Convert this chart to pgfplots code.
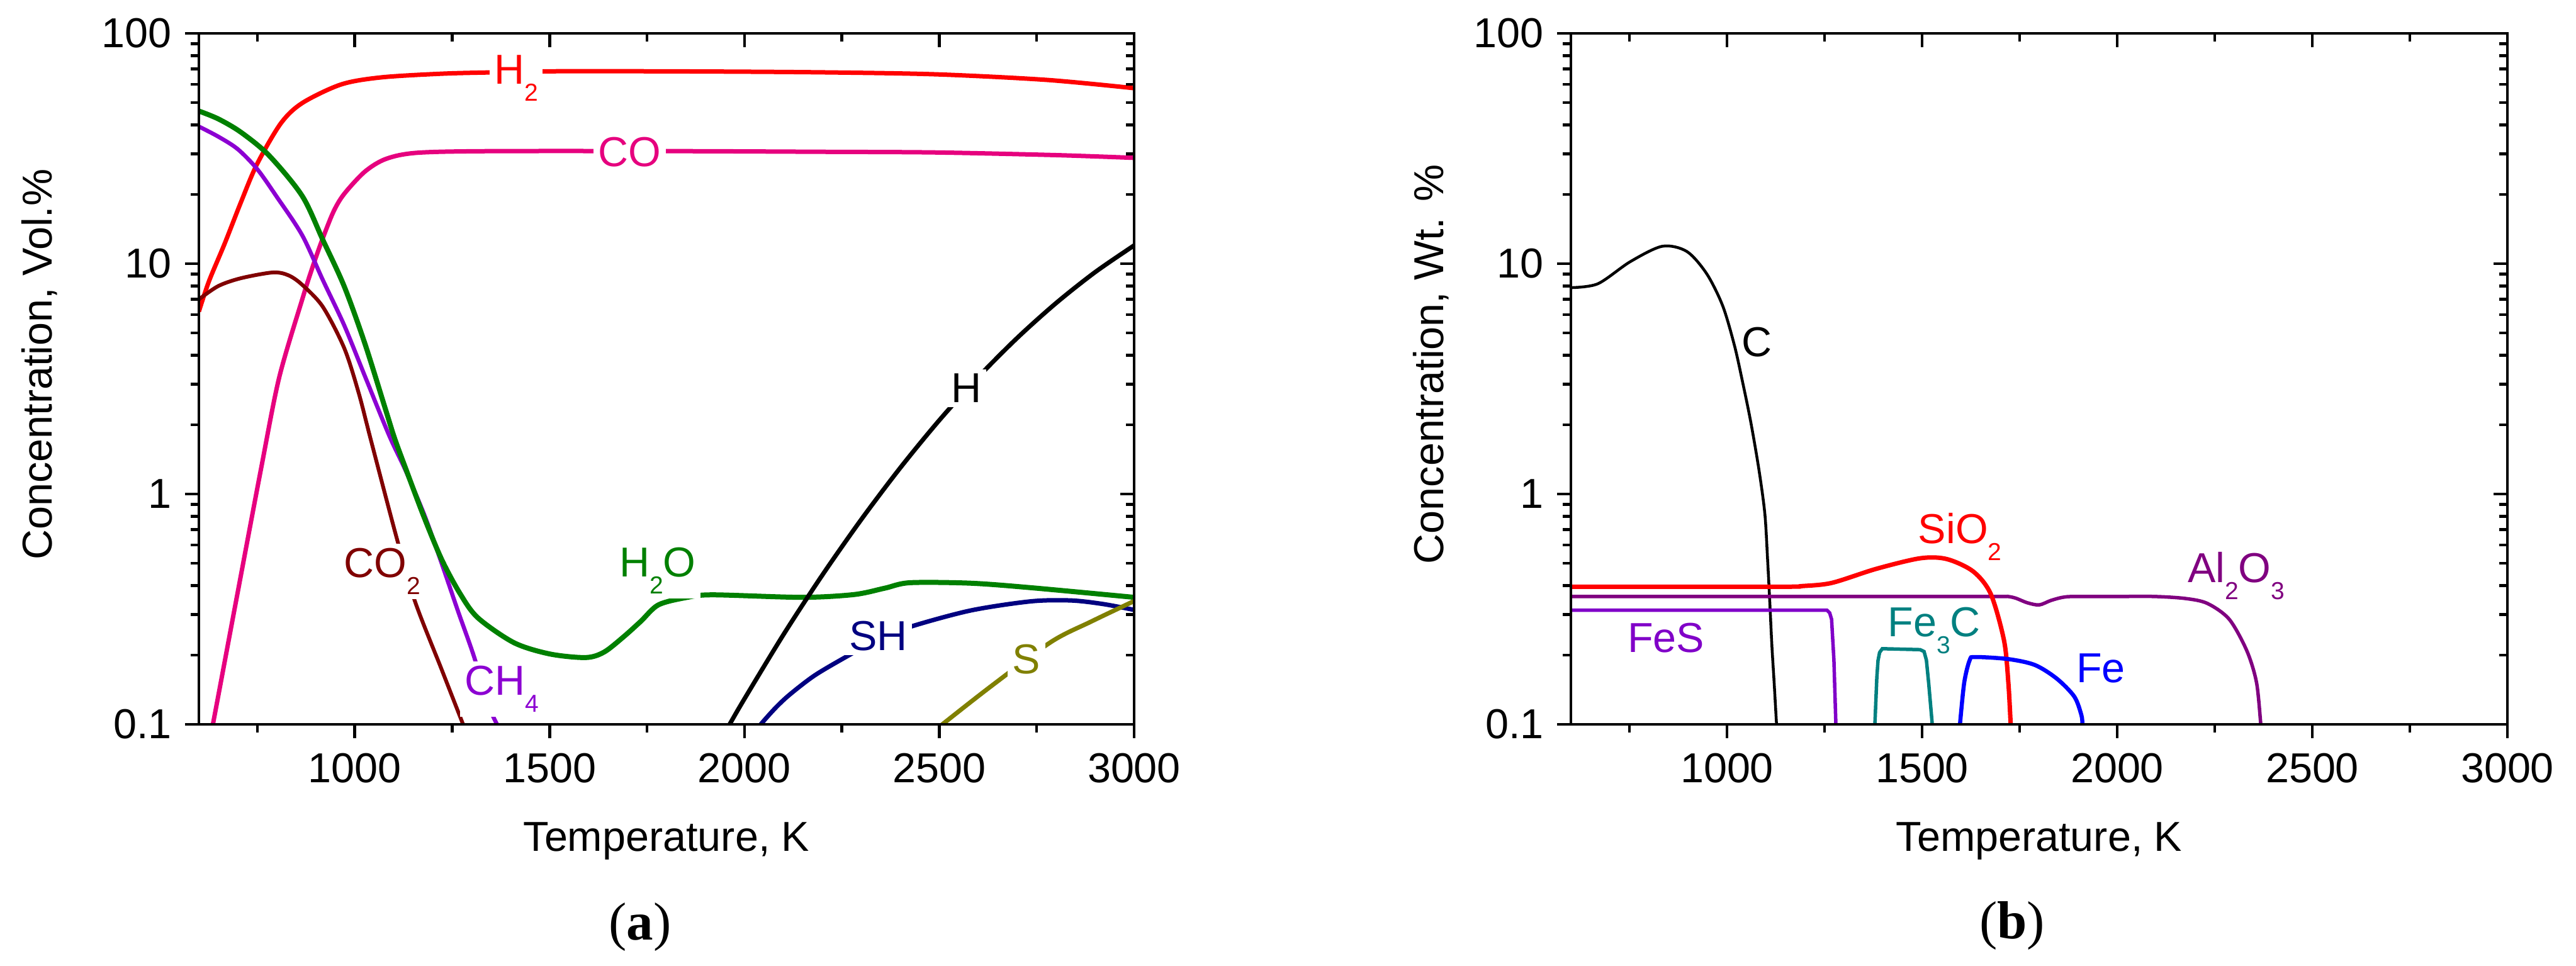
\documentclass[border=0pt]{standalone}
\usepackage{fontspec}
\setmainfont{Liberation Sans}
\newfontfamily\serifb{Liberation Serif}
\usepackage{pgfplots}
\pgfplotsset{compat=1.18}
\newcommand\sub[1]{\raisebox{-5.4pt}{\fontsize{7.8pt}{8pt}\selectfont #1}}
\definecolor{cH2}{RGB}{255,0,0}
\definecolor{cCO}{RGB}{230,0,126}
\definecolor{cH2O}{RGB}{0,128,0}
\definecolor{cCH4}{RGB}{140,0,210}
\definecolor{cCO2}{RGB}{128,0,0}
\definecolor{cSH}{RGB}{0,0,128}
\definecolor{cS}{RGB}{128,128,0}
\definecolor{cAl}{RGB}{128,0,128}
\definecolor{cFeS}{RGB}{128,0,200}
\definecolor{cFeC}{RGB}{0,128,128}
\definecolor{cFe}{RGB}{0,0,255}
\tikzset{curvelab/.style={anchor=base, font=\fontsize{13.3pt}{15pt}\selectfont, inner sep=1.5pt}}
\begin{document}
\begin{tikzpicture}
\path[use as bounding box] (0,0) rectangle (818.6pt,307pt);
% ---------------- panel (a)
\begin{axis}[scale only axis, width=297.2pt, height=219.6pt,
  xmin=600, xmax=3000, ymode=log, ymin=0.1, ymax=100,
  xtick={1000,1500,2000,2500,3000},
  minor xtick={750,1250,1750,2250,2750},
  ytick={0.1,1,10,100},
  axis line style={line width=0.9pt},
  every tick/.style={black, line width=0.9pt},
  major tick length=4.4pt, minor tick length=2.6pt,
  tick align=outside, xtick pos=bottom, ytick pos=left,
  xticklabels={1000,1500,2000,2500,3000}, yticklabels={0.1,1,10,100},
  tick label style={font=\fontsize{13.3pt}{15pt}\selectfont},
  xticklabel style={yshift=-1.3pt},
  yticklabel style={xshift=-0.7pt},
  label style={font=\fontsize{13.3pt}{15pt}\selectfont},
  xlabel={Temperature, K},
  xlabel style={at={(axis description cs:0.5,0)}, anchor=base, yshift=-40.4pt},
  at={(63.2pt,76.8pt)}, anchor=south west,
  ylabel={Concentration, Vol.\%},
  ylabel style={at={(axis description cs:-0.1568,0.521)}, anchor=base}]
\addplot[cH2, line width=1.4pt, no marks, smooth] coordinates {(600,6.2) (626,8.4) (666,12.2) (708,18.5) (749,27) (810,40.6) (865,49.8) (965,60) (1068,64.4) (1223,66.8) (1356,67.7) (1543,68.5) (1900,68.3) (2207,67.7) (2491,66.4) (2775,62.8) (3000,57.8)};
\addplot[cCO, line width=1.4pt, no marks, smooth] coordinates {(630,0.09) (636,0.1) (695,0.34) (760,1.3) (806,3.2) (865,6.98) (892,9.7) (918,12.9) (946,16.9) (973,20.1) (1026,25.1) (1080,28.5) (1160,30.3) (1349,30.8) (1827,30.8) (2200,30.6) (2491,30.4) (2800,29.6) (3000,28.8)};
\addplot[cCO2, line width=1.2pt, no marks, smooth] coordinates {(600,7.0) (650,8.0) (708,8.65) (790,9.16) (830,8.9) (865,8.1) (918,6.5) (973,4.3) (1010,2.75) (1042,1.7) (1107,0.65) (1154,0.344) (1223,0.173) (1280,0.098)};
\addplot[cCH4, line width=1.3pt, no marks, smooth] coordinates {(600,39.4) (650,35.6) (700,31.4) (750,25.7) (800,19.5) (865,13.3) (918,8.5) (973,5.4) (1026,3.25) (1088,1.8) (1130,1.27) (1180,0.8) (1223,0.5) (1265,0.31) (1306,0.197) (1343,0.121) (1372,0.095)};
\addplot[cH2O, line width=1.6pt, no marks, smooth] coordinates {(600,46) (650,42.5) (708,37.2) (780,29.5) (865,19.7) (918,12.7) (973,7.97) (1026,4.5) (1080,2.3) (1102,1.75) (1130,1.3) (1177,0.8) (1223,0.52) (1270,0.37) (1316,0.29) (1409,0.226) (1501,0.202) (1593,0.195) (1640,0.206) (1690,0.24) (1734,0.28) (1779,0.33) (1850,0.355) (1918,0.365) (2147,0.356) (2281,0.366) (2360,0.39) (2425,0.412) (2580,0.41) (2735,0.392) (3000,0.356)};
\addplot[black, line width=1.4pt, no marks, smooth] coordinates {(1955,0.095) (1962,0.1) (2000,0.129) (2100,0.245) (2200,0.445) (2300,0.776) (2400,1.30) (2500,2.09) (2600,3.22) (2700,4.76) (2800,6.75) (2900,9.19) (3000,12.0)};
\addplot[cSH, line width=1.4pt, no marks, smooth] coordinates {(2035,0.095) (2042,0.1) (2080,0.118) (2117,0.135) (2180,0.163) (2260,0.196) (2340,0.232) (2425,0.265) (2580,0.312) (2735,0.342) (2838,0.345) (2920,0.333) (3000,0.314)};
\addplot[cS, line width=1.4pt, no marks, smooth] coordinates {(2500,0.097) (2508,0.1) (2632,0.146) (2787,0.228) (2889,0.279) (3000,0.343)};
\node[curvelab, text=cH2, fill=white] at (axis cs:1414,60.4) {H\sub{2}};
\node[curvelab, text=cCO, fill=white] at (axis cs:1705,26.4) {CO};
\node[curvelab, text=cH2O, fill=white] at (axis cs:1777,0.438) {H\sub{2}O};
\node[curvelab, text=cCO2, fill=white] at (axis cs:1070,0.434) {CO\sub{2}};
\node[curvelab, text=cCH4, fill=white] at (axis cs:1378,0.134) {CH\sub{4}};
\node[curvelab, text=black, fill=white] at (axis cs:2569,2.49) {H};
\node[curvelab, text=cSH, fill=white] at (axis cs:2343,0.21) {SH};
\node[curvelab, text=cS, fill=white] at (axis cs:2724,0.166) {S};
\end{axis}
\begin{axis}[scale only axis, width=297.2pt, height=219.6pt,
  xmin=600, xmax=3000, ymode=log, ymin=0.1, ymax=100,
  xtick={1000,1500,2000,2500,3000},
  minor xtick={750,1250,1750,2250,2750},
  ytick={0.1,1,10,100},
  axis line style={line width=0.9pt},
  every tick/.style={black, line width=0.9pt},
  major tick length=4.4pt, minor tick length=2.6pt,
  tick align=inside, xtick pos=top, ytick pos=right, xticklabels={}, yticklabels={},
  at={(63.2pt,76.8pt)}, anchor=south west]
\end{axis}
% ---------------- panel (b)
\begin{axis}[scale only axis, width=297.6pt, height=219.6pt,
  xmin=600, xmax=3000, ymode=log, ymin=0.1, ymax=100,
  xtick={1000,1500,2000,2500,3000},
  minor xtick={750,1250,1750,2250,2750},
  ytick={0.1,1,10,100},
  axis line style={line width=0.9pt},
  every tick/.style={black, line width=0.9pt},
  major tick length=4.4pt, minor tick length=2.6pt,
  tick align=outside, xtick pos=bottom, ytick pos=left,
  xticklabels={1000,1500,2000,2500,3000}, yticklabels={0.1,1,10,100},
  tick label style={font=\fontsize{13.3pt}{15pt}\selectfont},
  xticklabel style={yshift=-1.3pt},
  yticklabel style={xshift=-0.7pt},
  label style={font=\fontsize{13.3pt}{15pt}\selectfont},
  xlabel={Temperature, K},
  xlabel style={at={(axis description cs:0.5,0)}, anchor=base, yshift=-40.4pt},
  at={(499.2pt,76.8pt)}, anchor=south west,
  ylabel={Concentration, Wt. \%},
  ylabel style={at={(axis description cs:-0.1358,0.521)}, anchor=base}]
\addplot[black, line width=0.9pt, no marks, smooth] coordinates {(600,7.87) (669,8.18) (752,10.2) (834,11.9) (897,11.3) (948,9.04) (989,6.56) (1019,4.42) (1040,3.06) (1061,2.05) (1082,1.27) (1097,0.82) (1104,0.52) (1110,0.33) (1115,0.22) (1121,0.15) (1127,0.1) (1129,0.095)};
\addplot[cAl, line width=1.1pt, no marks, smooth] coordinates {(600,0.359) (900,0.359) (1200,0.359) (1500,0.359) (1700,0.359) (1720,0.359) (1740,0.353) (1770,0.337) (1800,0.33) (1830,0.345) (1860,0.356) (1890,0.359) (2000,0.359) (2095,0.359) (2174,0.352) (2231,0.335) (2287,0.286) (2332,0.209) (2357,0.152) (2368,0.1) (2370,0.095)};
\addplot[cH2, line width=1.4pt, no marks, smooth] coordinates {(600,0.396) (900,0.396) (1165,0.396) (1189,0.398) (1268,0.411) (1382,0.473) (1495,0.526) (1563,0.522) (1631,0.461) (1676,0.368) (1710,0.231) (1721,0.152) (1727,0.1) (1728,0.095)};
\addplot[cFeS, line width=1.1pt, no marks, sharp plot] coordinates {(600,0.313) (1256,0.313) (1263,0.305) (1268,0.286) (1274,0.19) (1279,0.1) (1280,0.095)};
\addplot[cFeC, line width=1.1pt, no marks, sharp plot] coordinates {(1378,0.095) (1379,0.1) (1384,0.16) (1387,0.189) (1391,0.205) (1398,0.213) (1495,0.211) (1505,0.207) (1511,0.19) (1517,0.15) (1526,0.1) (1527,0.095)};
\addplot[cFe, line width=1.3pt, no marks, smooth] coordinates {(1596,0.095) (1597,0.1) (1608,0.152) (1622,0.19) (1636,0.196) (1721,0.192) (1789,0.181) (1845,0.158) (1890,0.132) (1908,0.11) (1911,0.1) (1912,0.095)};
\node[curvelab, text=black] at (axis cs:1077,3.95) {C};
\node[curvelab, text=cH2] at (axis cs:1597,0.612) {SiO\sub{2}};
\node[curvelab, text=cAl] at (axis cs:2305,0.412) {Al\sub{2}O\sub{3}};
\node[curvelab, text=cFeS] at (axis cs:844,0.206) {FeS};
\node[curvelab, text=cFeC] at (axis cs:1531,0.241) {Fe\sub{3}C};
\node[curvelab, text=cFe] at (axis cs:1958,0.152) {Fe};
\end{axis}
\begin{axis}[scale only axis, width=297.6pt, height=219.6pt,
  xmin=600, xmax=3000, ymode=log, ymin=0.1, ymax=100,
  xtick={1000,1500,2000,2500,3000},
  minor xtick={750,1250,1750,2250,2750},
  ytick={0.1,1,10,100},
  axis line style={line width=0.9pt},
  every tick/.style={black, line width=0.9pt},
  major tick length=4.4pt, minor tick length=2.6pt,
  tick align=inside, xtick pos=top, ytick pos=right, xticklabels={}, yticklabels={},
  at={(499.2pt,76.8pt)}, anchor=south west]
\end{axis}
\node[font=\serifb\fontsize{17pt}{20pt}\selectfont] at (203.4pt,12.4pt) {(\textbf{a})};
\node[font=\serifb\fontsize{17pt}{20pt}\selectfont] at (639.4pt,12.8pt) {(\textbf{b})};
\end{tikzpicture}
\end{document}
